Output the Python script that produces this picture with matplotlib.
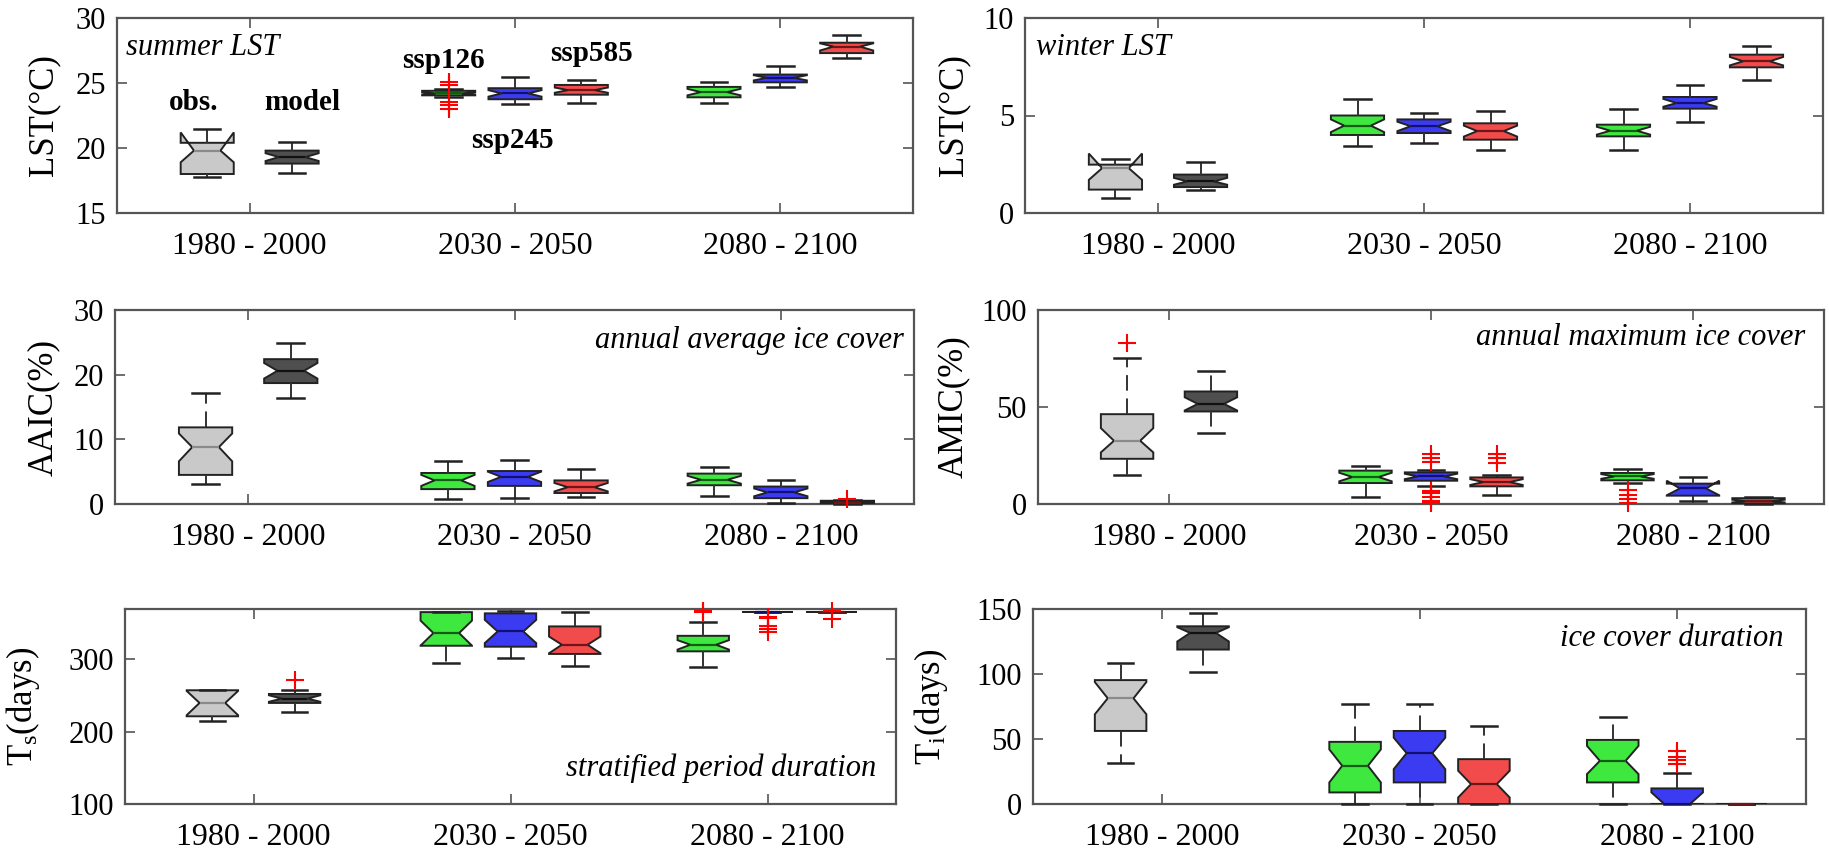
import matplotlib
matplotlib.use('Agg')
import matplotlib.pyplot as plt

plt.rcParams['font.family'] = ['Liberation Serif', 'DejaVu Serif']
plt.rcParams['mathtext.fontset'] = 'custom'
plt.rcParams['mathtext.rm'] = 'Liberation Serif'
plt.rcParams['mathtext.it'] = 'Liberation Serif:italic'

periods = ['1980 - 2000', '2030 - 2050', '2080 - 2100']
series = ['obs.', 'model', 'ssp126', 'ssp245', 'ssp585', 'ssp126', 'ssp245', 'ssp585']

# per box: [lower whisker, q1, median, q3, upper whisker]; notch: [lo, hi]; outliers
summer_box = [[17.8, 18.0, 19.8, 20.4, 21.5], [18.1, 18.8, 19.3, 19.8, 20.5],
              [23.9, 24.05, 24.2, 24.4, 24.55], [23.35, 23.75, 24.2, 24.6, 25.5],
              [23.45, 24.1, 24.45, 24.85, 25.25], [23.45, 23.9, 24.3, 24.7, 25.05],
              [24.7, 25.05, 25.4, 25.65, 26.3], [26.9, 27.3, 27.8, 28.1, 28.7]]
summer_notch = [[18.9, 21.2], [19.0, 19.6], [24.12, 24.3], [23.95, 24.45],
                [24.25, 24.65], [24.05, 24.55], [25.2, 25.6], [27.5, 28.05]]
summer_out = [[], [], [25.1, 24.85, 23.55, 23.3, 23.0], [], [], [], [], []]

winter_box = [[0.77, 1.2, 2.3, 2.48, 2.75], [1.16, 1.33, 1.62, 1.97, 2.6],
              [3.42, 4.0, 4.48, 5.0, 5.85], [3.6, 4.1, 4.45, 4.8, 5.13],
              [3.25, 3.76, 4.2, 4.6, 5.25], [3.25, 3.93, 4.22, 4.53, 5.33],
              [4.67, 5.35, 5.64, 5.95, 6.55], [6.8, 7.47, 7.78, 8.12, 8.55]]
winter_notch = [[1.7, 3.05], [1.45, 1.8], [4.15, 4.8], [4.2, 4.68],
                [3.92, 4.48], [4.02, 4.42], [5.45, 5.85], [7.57, 8.0]]
winter_out = [[], [], [], [], [], [], [], []]

aaic_box = [[3.1, 4.5, 8.8, 11.85, 17.2], [16.4, 18.7, 20.6, 22.4, 24.9],
            [0.7, 2.3, 3.65, 4.8, 6.7], [0.9, 2.8, 4.2, 5.1, 6.75],
            [1.1, 1.7, 2.6, 3.65, 5.45], [1.2, 2.9, 3.75, 4.7, 5.7],
            [0.15, 0.9, 1.8, 2.7, 3.75], [0.0, 0.05, 0.2, 0.5, 0.6]]
aaic_notch = [[6.6, 10.9], [19.4, 21.8], [2.8, 4.5], [3.4, 5.0],
              [1.95, 3.25], [3.15, 4.35], [1.2, 2.4], [0.1, 0.35]]
aaic_out = [[], [], [], [], [], [], [], [0.8]]

amic_box = [[15.1, 23.3, 32.6, 46.3, 75.1], [36.5, 47.7, 51.6, 58.0, 68.3],
            [3.6, 10.8, 13.9, 17.2, 19.4], [9.1, 12.0, 14.2, 16.3, 17.5],
            [4.8, 9.1, 11.3, 13.7, 15.1], [10.8, 12.2, 14.2, 16.0, 18.0],
            [1.4, 4.3, 8.0, 10.5, 13.9], [0.0, 0.3, 1.5, 3.0, 3.6]]
amic_notch = [[26.6, 39.1], [48.2, 55.0], [11.7, 16.1], [12.8, 15.6],
              [9.8, 12.8], [13.0, 15.4], [4.5, 12.0], [0.8, 2.2]]
amic_out = [[82.8], [], [], [26.0, 23.5, 21.5, 6.5, 5.5, 3.5, 1.5, 0.3],
            [26.0, 23.5, 21.2], [7.0, 4.5, 2.5, 0.5], [], []]

ts_box = [[214, 221, 239.4, 256.9, 257], [227, 239.4, 245.4, 251.8, 257.8],
          [294.5, 318.3, 335.8, 364.7, 364.7], [301.4, 317, 338, 363, 366.5],
          [290.8, 307, 319.7, 345, 364.7], [289, 310.6, 319.7, 332, 351.4],
          [365, 365, 365, 365, 365], [365, 365, 365, 365, 365]]
ts_notch = [[222.5, 256], [241, 250], [318.5, 353], [322, 354],
            [308, 331], [313, 326], [365, 365], [365, 365]]
ts_out = [[], [271.6], [], [], [], [366, 365], [358, 356, 346, 341, 337], [366, 355]]

ti_box = [[31.9, 56.2, 81.3, 95.3, 108.6], [101.5, 118.8, 131.6, 136.7, 147],
          [0, 8.9, 29.4, 47.8, 77.2], [0, 16.6, 39.1, 56.2, 76.7],
          [0, 0, 15.3, 34.5, 60], [0, 16.6, 33.2, 49.3, 67],
          [0, 0, 0, 12, 23.8], [0, 0, 0, 0, 0]]
ti_notch = [[69, 93.8], [125, 136], [16.6, 42], [26.8, 51],
            [5, 25.6], [23, 44.7], [-6, 8.9], [0, 0]]
ti_out = [[], [], [], [], [], [], [41, 36.5, 34, 30.7], []]

positions = [0.84, 1.16, 1.75, 2.0, 2.25, 2.75, 3.0, 3.25]
fills = ['#c9c9c9', '#4f4f4f', '#3fe83f', '#3b3bf2', '#f24b4b',
         '#3fe83f', '#3b3bf2', '#f24b4b']
medcols = ['#8a8a8a', '#111111', '#145c14', '#101070', '#701515',
           '#145c14', '#101070', '#701515']

W, H = 1829, 852
fig = plt.figure(figsize=(W / 100, H / 100), dpi=100)


def add_ax(l, t, r, b):
    return fig.add_axes([l / W, 1 - b / H, (r - l) / W, (b - t) / H])


def panel(ax, box, notch, out, ylim, yticks, ylabel, label_x_px, note, nx, ny, ha):
    stats = []
    for f, c, o in zip(box, notch, out):
        stats.append(dict(whislo=f[0], q1=f[1], med=f[2], q3=f[3], whishi=f[4],
                          cilo=c[0], cihi=c[1], fliers=o))
    bp = ax.bxp(stats, positions=positions, widths=0.2, shownotches=True,
                patch_artist=True,
                boxprops=dict(edgecolor='#222222', linewidth=1.4),
                whiskerprops=dict(color='#333333', linewidth=1.4, linestyle=(0, (8, 4))),
                capprops=dict(color='#222222', linewidth=1.8),
                medianprops=dict(linewidth=1.6),
                flierprops=dict(marker='+', markeredgecolor='red', markersize=13,
                                markeredgewidth=1.5, linestyle='none'))
    for patch, fc in zip(bp['boxes'], fills):
        patch.set_facecolor(fc)
        patch.set_zorder(3)
    for med, mc in zip(bp['medians'], medcols):
        med.set_color(mc)
        med.set_zorder(4)
        med.set_clip_on(False)
    for art in bp['caps'] + bp['whiskers']:
        art.set_zorder(3)
        art.set_clip_on(False)
    for fl in bp['fliers']:
        fl.set_clip_on(False)
        fl.set_zorder(5)

    ax.set_xlim(0.5, 3.5)
    ax.set_ylim(*ylim)
    ax.set_xticks([1, 2, 3], periods)
    ax.set_yticks(yticks)
    ax.tick_params(direction='in', top=True, right=True, length=7, width=1.2,
                   color='#555555', labelsize=22)
    ax.tick_params(axis='x', pad=14, labelsize=23)
    ax.tick_params(axis='y', pad=8)
    for sp in ax.spines.values():
        sp.set_color('#555555')
        sp.set_linewidth(1.6)
    ax.set_ylabel(ylabel, fontsize=25)
    bb = ax.get_position()
    ax.yaxis.set_label_coords((label_x_px / W - bb.x0) / bb.width, 0.5)
    ax.text(nx, ny, note, transform=ax.transAxes, ha=ha, va='center',
            fontsize=22, style='italic')


ax1 = add_ax(117, 18, 913, 213)
panel(ax1, summer_box, summer_notch, summer_out, (15, 30), [15, 20, 25, 30],
      'LST(°C)', 60, 'summer LST', 0.011, 0.85, 'left')
ax2 = add_ax(1025, 18, 1823, 213)
panel(ax2, winter_box, winter_notch, winter_out, (0, 10), [0, 5, 10],
      'LST(°C)', 970, 'winter LST', 0.014, 0.85, 'left')
ax3 = add_ax(115, 310, 914, 504)
panel(ax3, aaic_box, aaic_notch, aaic_out, (0, 30), [0, 10, 20, 30],
      'AAIC(%)', 60, 'annual average ice cover', 0.987, 0.845, 'right')
ax4 = add_ax(1038, 310, 1824, 504)
panel(ax4, amic_box, amic_notch, amic_out, (0, 100), [0, 50, 100],
      'AMIC(%)', 970, 'annual maximum ice cover', 0.976, 0.86, 'right')
ax5 = add_ax(125, 609, 896, 804)
panel(ax5, ts_box, ts_notch, ts_out, (100, 369), [100, 200, 300],
      r'T$_{\rm s}$(days)', 42, 'stratified period duration', 0.975, 0.185, 'right')
ax6 = add_ax(1033, 609, 1806, 804)
panel(ax6, ti_box, ti_notch, ti_out, (0, 150), [0, 50, 100, 150],
      r'T$_{\rm i}$(days)', 950, 'ice cover duration', 0.971, 0.85, 'right')

# scenario labels in the first panel
for name, x, y in [('obs.', 0.79, 23.5), ('model', 1.2, 23.5), ('ssp126', 1.73, 26.7),
                   ('ssp245', 1.99, 20.6), ('ssp585', 2.29, 27.3)]:
    ax1.text(x, y, name, ha='center', va='center', fontsize=21, fontweight='bold')

fig.savefig('out.png', dpi=100, facecolor='white')
